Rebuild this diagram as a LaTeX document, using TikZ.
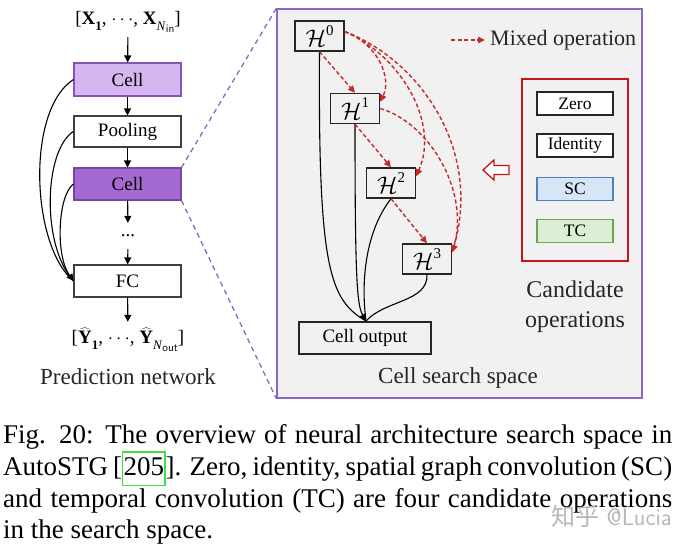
\RequirePackage{fix-cm}
\documentclass[tikz,border=0pt]{standalone}
\usepackage{fontspec}
\setmainfont{Liberation Serif}
\newfontfamily\cjkfont{Noto Sans CJK SC}
\usetikzlibrary{arrows.meta}
\definecolor{cellA}{HTML}{D6B6EE}
\definecolor{cellAb}{HTML}{8A52B8}
\definecolor{cellB}{HTML}{A56AD2}
\definecolor{cellBb}{HTML}{7B43A8}
\definecolor{panelb}{HTML}{8B68BF}
\definecolor{panelf}{HTML}{F1F1F1}
\definecolor{mixred}{HTML}{C42A2A}
\definecolor{boxred}{HTML}{C4161C}
\definecolor{scf}{HTML}{D6E6F6}
\definecolor{scb}{HTML}{4E80BD}
\definecolor{tcf}{HTML}{DCEED3}
\definecolor{tcb}{HTML}{6BA551}
\definecolor{lnkgreen}{HTML}{3FE03F}
\newcommand\capfont{\fontsize{27}{31.7}\selectfont}
\newcommand\sbx[1]{\raisebox{-0.3em}{\fontsize{13}{14}\selectfont #1}}
\newcommand\sbin[1]{\raisebox{-0.2em}{\fontsize{11.5}{12}\selectfont\sffamily #1}}
\newcommand\Hsup[1]{$\mathcal{H}$\raisebox{0.48em}{\fontsize{15}{16}\selectfont #1}}
\begin{document}
\begin{tikzpicture}[x=1pt,y=-1pt,
  arr/.style={line width=1.1pt,-{Triangle[length=7pt,width=7pt]}},
  redarr/.style={draw=mixred,line width=1.4pt,dash pattern=on 4pt off 2.5pt,-{Triangle[length=7pt,width=6.5pt]}},
  blk/.style={draw=black!75,line width=1.1pt,inner sep=0pt,minimum width=107,font=\fontsize{19}{22}\selectfont},
  hbox/.style={draw=black!85,fill=panelf,line width=1.4pt,inner sep=0pt,minimum width=49,minimum height=30,font=\fontsize{24}{26}\selectfont},
  opbox/.style={draw=black!85,fill=white,line width=1.3pt,inner sep=0pt,minimum width=76,minimum height=23,font=\fontsize{17.5}{20}\selectfont},
  lbl/.style={inner sep=0pt,font=\fontsize{23}{28}\selectfont,text=black!85}]
\useasboundingbox (0,0) rectangle (679,547);
\fill[white] (0,0) rectangle (679,547);

% ---------- right panel ----------
\node[draw=panelb,fill=panelf,line width=1.3pt,minimum width=365,minimum height=389,inner sep=0pt] (panel) at (459.5,203.5) {};

% ---------- left: prediction network ----------
\node[inner sep=4pt,font=\fontsize{19}{22}\selectfont] (inlab) at (128,22) {[\textbf{X}\sbx{\textbf{1}}, $\cdots$, \textbf{X}\sbx{\textit{N}\sbin{in}}]};
\node[blk,fill=cellA,draw=cellAb,minimum height=33] (cell1) at (127.5,79.5) {Cell};
\node[blk,fill=white,minimum height=31] (pool) at (127.5,131.5) {Pooling};
\node[blk,fill=cellB,draw=cellBb,minimum height=32] (cell2) at (127.5,184) {Cell};
\node[inner sep=0pt,minimum height=26,font=\fontsize{19}{22}\selectfont] (dots) at (128,236) {...};
\node[blk,fill=white,minimum height=32] (fc) at (127.5,281) {FC};
\node[inner sep=3pt,font=\fontsize{19}{22}\selectfont] (outlab) at (128,340) {[$\widehat{\mathbf{Y}}$\sbx{\textbf{1}}, $\cdots$, $\widehat{\mathbf{Y}}$\sbx{\textit{N}\sbin{out}}]};
\node[lbl] (predlab) at (128,377) {Prediction network};

\draw[arr] (inlab) -- (cell1);
\draw[arr] (cell1) -- (pool);
\draw[arr] (pool) -- (cell2);
\draw[arr] (cell2) -- (dots);
\draw[arr] (dots) -- (fc);
\draw[arr,shorten >=3pt] (fc) -- (outlab);

\draw[line width=1.1pt] (cell1.west) .. controls (26,110) and (31,245) .. (fc.west);
\draw[line width=1.1pt] (pool.west) .. controls (44,150) and (41,245) .. (fc.west);
\draw[arr] (cell2.west) .. controls (58,195) and (55,255) .. (fc.west);

% zoom lines
\draw[draw=panelb,line width=1.3pt,dash pattern=on 5pt off 4pt] (cell2.north east) -- (panel.north west);
\draw[draw=panelb,line width=1.3pt,dash pattern=on 5pt off 4pt] (cell2.south east) -- (panel.south west);

% ---------- cell search space ----------
\node[hbox] (H0) at (319.5,36) {\Hsup{0}};
\node[hbox] (H1) at (355,108.5) {\Hsup{1}};
\node[hbox] (H2) at (391,183) {\Hsup{2}};
\node[hbox] (H3) at (427,259) {\Hsup{3}};
\node[draw=black!85,fill=panelf,line width=1.3pt,inner sep=0pt,minimum width=132,minimum height=32,font=\fontsize{19}{22}\selectfont] (cout) at (365,338) {Cell output};
\coordinate (m) at (366,321);

\draw[line width=1.1pt] (H0.south) .. controls (318,270) and (330,300) .. (m);
\draw[line width=1.1pt] (H2.south) .. controls (368,228) and (360,275) .. (m);
\draw[line width=1.1pt] (H3.south) .. controls (428,302) and (385,300) .. (m);
\draw[arr] (H1.south) .. controls (355,280) and (357,305) .. (m);

\draw[redarr] (H0.south) -- (H1.north);
\draw[redarr] (H1.south) -- (H2.north);
\draw[redarr] (H2.south) -- (H3.north);
\draw[redarr] (H0.10) .. controls (378,44) and (392,78) .. (H1.15);
\draw[redarr] (H0.10) .. controls (400,55) and (440,122) .. (H2.15);
\draw[redarr] (H0.10) .. controls (420,60) and (482,150) .. (H3.15);
\draw[redarr] (H1.east) .. controls (428,122) and (470,190) .. (H3.15);

% legend
\coordinate (lg1) at (451,40);
\coordinate (lg2) at (485,40);
\draw[redarr] (lg1) -- (lg2);
\node[lbl,anchor=west,font=\fontsize{22}{26}\selectfont] (mixlab) at (490,40) {Mixed operation};

% candidate operations
\node[draw=boxred,line width=1.8pt,minimum width=106,minimum height=182,inner sep=0pt] (cand) at (575,170) {};
\node[opbox] (zero) at (575,103.5) {Zero};
\node[opbox] (ident) at (575,145.5) {Identity};
\node[opbox,fill=scf,draw=scb] (sc) at (575,189) {SC};
\node[opbox,fill=tcf,draw=tcb] (tc) at (575,231) {TC};
\node[lbl,align=center,font=\fontsize{24}{30}\selectfont] (candlab) at (575,307) {Candidate\\operations};
\draw[draw=boxred,line width=1.3pt,fill=white,line join=miter]
  (483,170) -- (494,160) -- (494,165.5) -- (509,165.5) -- (509,174.5) -- (494,174.5) -- (494,180) -- cycle;
\node[lbl] (csslab) at (458,378) {Cell search space};

% ---------- caption ----------
\node[anchor=base west,inner sep=0pt] (cap1) at (3,443) {\capfont\makebox[669pt][s]{Fig. 20: The overview of neural architecture search space in}};
\node[anchor=base west,inner sep=0pt] (cap2) at (3,475) {\capfont\makebox[669pt][s]{AutoSTG [{\fboxsep=0.3pt\fboxrule=1.2pt\fcolorbox{lnkgreen}{white}{\strut 205}}]. Zero, identity, spatial graph convolution (SC)}};
\node[anchor=base west,inner sep=0pt] (cap3) at (3,507) {\capfont\makebox[669pt][s]{and temporal convolution (TC) are four candidate operations}};
\node[anchor=base west,inner sep=0pt] (cap4) at (3,538) {\capfont in the search space.};
\node[anchor=base east,inner sep=0pt,text=black!28,font=\fontsize{24}{26}\selectfont\sffamily] (wm) at (672,525) {{\cjkfont 知乎} @Lucia};
\end{tikzpicture}
\end{document}
